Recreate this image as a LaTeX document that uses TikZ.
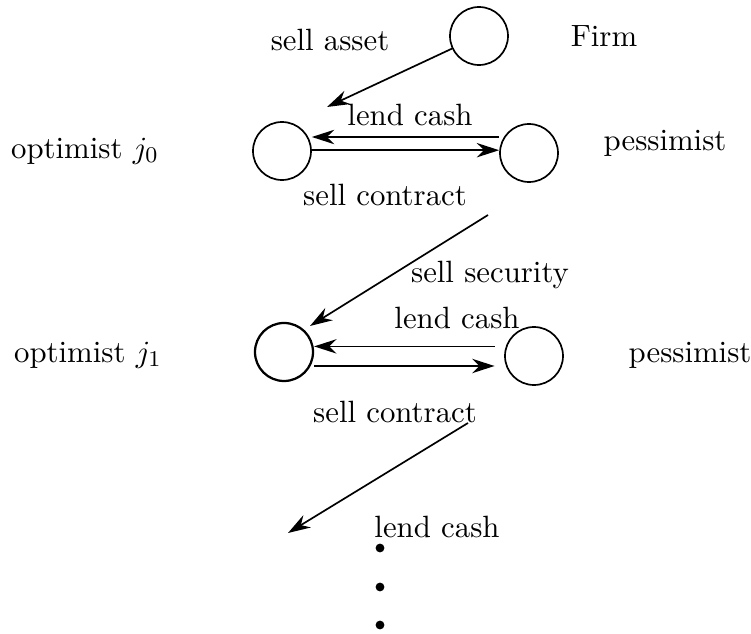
\documentclass[11pt,tikz,border=0pt]{standalone}
\usepackage{amsmath,amssymb}
\usepackage{tikz}
\usetikzlibrary{arrows.meta, positioning, calc}

\begin{document}
\begin{tikzpicture}[
    x=0.125mm, y=-0.125mm,
    agent/.style={circle, draw, semithick, minimum size=7.25mm, inner sep=0pt},
    lbl/.style={inner sep=1pt},
    arrow/.style={-{Stealth[length=2.8mm, width=1.8mm]}, semithick},
    dot/.style={circle, fill, minimum size=1.1mm, inner sep=0pt}
]
\useasboundingbox (0,0) rectangle (751,634);

% Firm
\node[agent] (firm) at (479,36) {};
\node[lbl] (firmlbl) at (604,36) {Firm};
\node[lbl] (sellasset) at (330,40) {sell asset};
\coordinate (asset) at (327,107);

% First pair of traders
\node[agent] (opt0) at (282,151) {};
\node[agent] (pes0) at (529,153) {};
\node[lbl] (opt0lbl) at (85,151) {optimist $j_0$};
\node[lbl] (pes0lbl) at (665,143) {pessimist};
\node[lbl] (lend0) at (410,115) {lend cash};
\node[lbl] (sell0) at (385,195) {sell contract};

% Second pair of traders
\node[agent, thick] (opt1) at (284,352) {};
\node[agent] (pes1) at (534,356) {};
\node[lbl] (opt1lbl) at (88,355) {optimist $j_1$};
\node[lbl] (pes1lbl) at (690,355) {pessimist};
\node[lbl] (security) at (490,275) {sell security};
\node[lbl] (lend1) at (457,318) {lend cash};
\node[lbl] (sell1) at (395,412) {sell contract};
\coordinate (sec0) at (488,215);
\coordinate (sec1) at (310,326);
\coordinate (pes1in) at ([xshift=-1.2mm]pes1.west);

% Next generation
\coordinate (next0) at (468,423);
\coordinate (next1) at (288,533);
\node[lbl] (lend2) at (437,527) {lend cash};
\foreach \y [count=\i] in {548,587,625}
  \node[dot] (dot\i) at (380,\y) {};

% Arrows
\draw[arrow] (firm) -- (asset);
\draw[arrow] ([yshift=2mm]pes0.west) -- ([yshift=2mm]pes0.west -| opt0.east);
\draw[arrow] ([yshift=0.1mm]opt0.east) -- ([yshift=0.1mm]opt0.east -| pes0.west);
\draw[arrow] (sec0) -- (sec1);
\draw[arrow] ([yshift=1.2mm]pes1in) -- ([yshift=1.2mm]pes1in -| opt1.east);
\draw[arrow] ([yshift=-1.75mm]opt1.east) -- ([yshift=-1.75mm]opt1.east -| pes1in);
\draw[arrow] (next0) -- (next1);
\end{tikzpicture}
\end{document}
